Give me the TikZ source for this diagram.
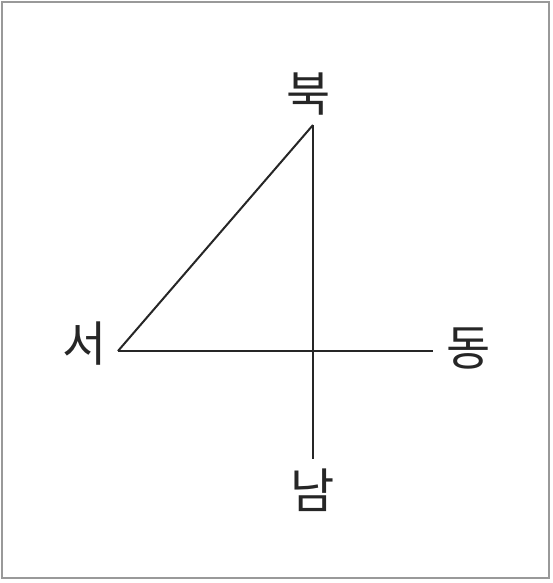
\documentclass[tikz,border=0pt]{standalone}
\usepackage{fontspec}
\newfontfamily\kr{Noto Sans CJK KR}
\begin{document}
\begin{tikzpicture}[x=1pt,y=-1pt,
  lbl/.style={font=\kr\fontsize{48}{48}\selectfont, inner sep=0pt, text=black!85},
  ln/.style={line width=2pt, black!85}]
\useasboundingbox (0,0) rectangle (552,583);
\draw[line width=1.5pt, black!40] (2,2) rectangle (549,578);
\coordinate (N) at (313,125);
\coordinate (S) at (313,459);
\coordinate (W) at (118,351);
\coordinate (E) at (433,351);
\node[lbl] (nb) at (309,94) {북};
\node[lbl] (sb) at (85,344) {서};
\node[lbl] (db) at (469,349) {동};
\node[lbl] (nm) at (313,490) {남};
\draw[ln] (N) -- (S);
\draw[ln] (W) -- (E);
\draw[ln] (W) -- (N);
\end{tikzpicture}
\end{document}
